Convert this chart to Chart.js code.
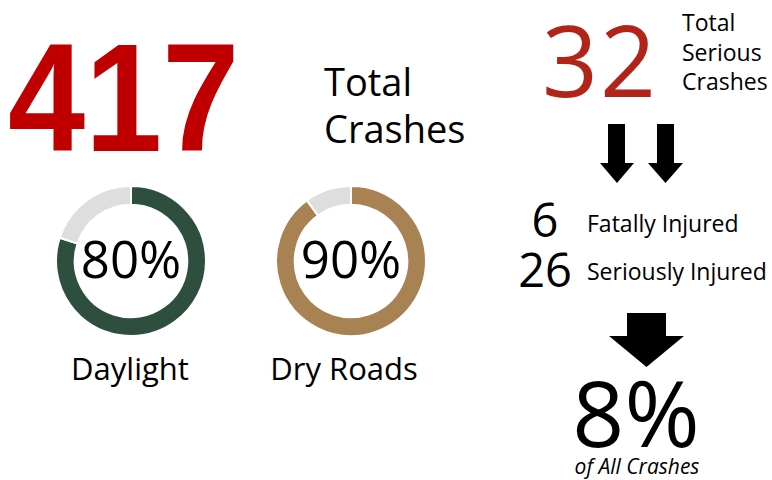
<!DOCTYPE html>
<html>
<head>
<meta charset="utf-8">
<script src="https://cdn.jsdelivr.net/npm/chart.js@4/dist/chart.umd.min.js"></script>
<style>
  html, body { margin: 0; padding: 0; background: #fff; }
  body { width: 772px; height: 480px; position: relative; overflow: hidden;
         font-family: "Open Sans", "Noto Sans", sans-serif; color: #000; }
  .t { position: absolute; white-space: nowrap; line-height: 1; }
  .ring { position: absolute; width: 152px; height: 152px; }
</style>
</head>
<body>
<div class="t" id="total" style="left:8px; top:21px; font-family:'Liberation Sans', Arial, sans-serif; font-weight:bold; font-size:154px; transform:scaleX(0.9); transform-origin:left top; color:#c00000;"></div>
<div class="t" id="totalLbl" style="left:324px; top:58px; font-size:38px; line-height:47px;">Total<br>Crashes</div>

<div class="ring" style="left:55px; top:185px;"><canvas id="ring0"></canvas></div>
<div class="ring" style="left:275px; top:185px;"><canvas id="ring1"></canvas></div>
<div class="t" id="lbl0" style="left:130px; top:353px; font-size:31px; transform:translateX(-50%);"></div>
<div class="t" id="lbl1" style="left:344px; top:353px; font-size:31px; transform:translateX(-50%);"></div>

<div class="t" id="serious" style="left:542px; top:10px; font-size:98px; letter-spacing:2px; color:#b22418;"></div>
<div class="t" id="seriousLbl" style="left:682px; top:8px; font-size:23px; line-height:29.5px;">Total<br>Serious<br>Crashes</div>

<div class="t" id="n0" style="left:545px; top:201px; font-size:47px; line-height:0.8; transform:translateX(-50%);"></div>
<div class="t" id="n1" style="left:545px; top:251px; font-size:47px; line-height:0.8; transform:translateX(-50%);"></div>
<div class="t" id="i0" style="left:587px; top:212px; font-size:23px;"></div>
<div class="t" id="i1" style="left:587px; top:260px; font-size:23px;"></div>

<div class="t" id="share" style="left:636px; top:376px; font-size:91px; line-height:0.8; transform:translateX(-50%);"></div>
<div class="t" style="left:637px; top:456px; font-size:21px; font-style:italic; transform:translateX(-50%);">of All Crashes</div>

<svg width="772" height="480" style="position:absolute; left:0; top:0; pointer-events:none;">
  <polygon points="608,124 625,124 625,163 634,163 617,183 600,163 608,163" fill="#000"/>
  <polygon points="657,124 674,124 674,163 683,163 665.5,183 648,163 657,163" fill="#000"/>
  <polygon points="627,313 666,313 666,336 684,336 646.5,367 609,336 627,336" fill="#000"/>
</svg>

<script>
const totalCrashes = 417;
const seriousCrashes = 32;
const conditionLabels = ['Daylight', 'Dry Roads'];
const conditionPct = [80, 90];
const injuryLabels = ['Fatally Injured', 'Seriously Injured'];
const injuryCounts = [6, 26];
const shareOfAll = 8;

const ringColors = ['#2f4f3e', '#a98254'];

document.getElementById('total').textContent = totalCrashes;
document.getElementById('serious').textContent = seriousCrashes;
document.getElementById('share').textContent = shareOfAll + '%';
injuryLabels.forEach((l, i) => {
  document.getElementById('i' + i).textContent = l;
  document.getElementById('n' + i).textContent = injuryCounts[i];
});

// percentage written in the hole of the ring
const centerText = {
  id: 'centerText',
  afterDatasetsDraw(chart) {
    const arc = chart.getDatasetMeta(0).data[0];
    const ctx = chart.ctx;
    ctx.save();
    ctx.font = '51px "Open Sans"';
    ctx.fillStyle = '#000';
    ctx.textAlign = 'center';
    ctx.textBaseline = 'middle';
    ctx.fillText(chart.data.datasets[0].data[0] + '%', arc.x, arc.y + 2);
    ctx.restore();
  }
};

conditionLabels.forEach((label, i) => {
  document.getElementById('lbl' + i).textContent = label;
  new Chart(document.getElementById('ring' + i), {
    type: 'doughnut',
    data: {
      labels: [label, 'Other'],
      datasets: [{
        data: [conditionPct[i], 100 - conditionPct[i]],
        backgroundColor: [ringColors[i], '#dedede'],
        borderColor: '#fff',
        borderWidth: 2
      }]
    },
    options: {
      responsive: true,
      maintainAspectRatio: false,
      animation: false,
      cutout: '75%',
      events: [],
      plugins: { legend: { display: false }, tooltip: { enabled: false } }
    },
    plugins: [centerText]
  });
});
</script>
</body>
</html>
